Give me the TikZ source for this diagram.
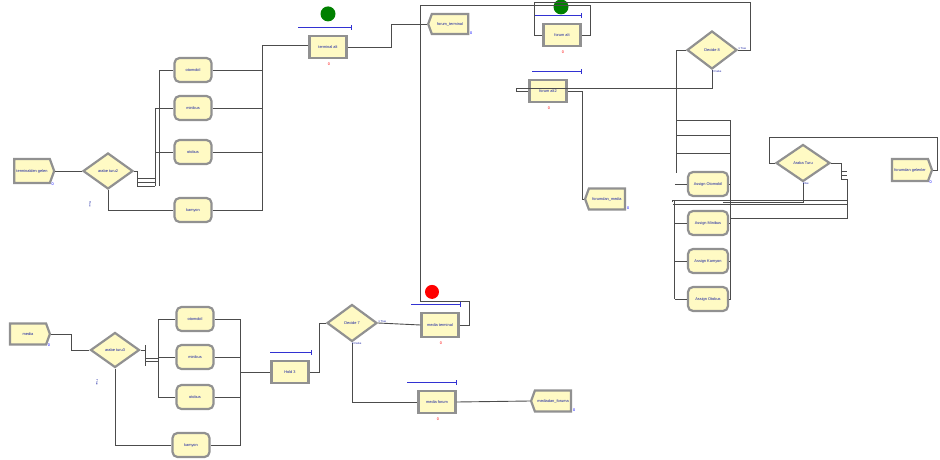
\documentclass[tikz,border=0pt]{standalone}
\usepackage{fontspec}
\setsansfont{Liberation Sans}
\usetikzlibrary{shapes.geometric,shapes.symbols,arrows.meta,calc}
\definecolor{modfill}{RGB}{255,250,196}
\definecolor{modedge}{RGB}{145,145,145}
\definecolor{labblue}{RGB}{20,30,160}
\definecolor{qblue}{RGB}{50,50,210}
\tikzset{
	lbl/.style={font=\sffamily\fontsize{3.9}{5}\selectfont, text=labblue},
	proc/.style={lbl, draw=modedge, line width=2.2pt, fill=modfill, minimum width=37pt, minimum height=22pt, inner sep=0pt},
	assignbox/.style={proc, rounded corners=5pt, minimum height=24pt},
	decbox/.style={lbl, diamond, draw=modedge, line width=2.2pt, fill=modfill, minimum width=50pt, minimum height=36pt, inner sep=0pt},
	createbox/.style={lbl, signal, signal to=east, signal pointer angle=140, draw=modedge, line width=2.2pt, fill=modfill, minimum width=40pt, minimum height=24pt, inner sep=0pt},
	disposebox/.style={createbox, signal to=west},
	conn/.style={draw=black!70, line width=0.9pt},
	queue/.style={draw=qblue, line width=0.9pt, -{Bar[width=5pt]}},
	cntred/.style={font=\sffamily\fontsize{3.8}{4}\selectfont, text=red},
	cntblue/.style={font=\sffamily\fontsize{3.8}{4}\selectfont, text=blue},
	tiny/.style={font=\sffamily\fontsize{2.8}{3}\selectfont, text=labblue, inner sep=0pt}
}
\begin{document}
\begin{tikzpicture}[x=1pt, y=-1pt]
	\useasboundingbox (0,0) rectangle (940,460);
	% terminal side
	\node[createbox] (tgel) at (32,171) {terminalden gelen};
	\node[decbox] (dec2) at (108,171) {arabe turu2};
	\node[assignbox] (oto1) at (193,70) {otomobil};
	\node[assignbox] (min1) at (193,108) {minibus};
	\node[assignbox] (otb1) at (193,152) {otobus};
	\node[assignbox] (kam1) at (193,210) {kamyon};
	\node[proc] (talt) at (328,47) {terminal alt};
	\node[disposebox, minimum height=20pt] (fterm) at (450,24) {forum\_terminal};
	% forum side
	\node[proc] (falt) at (562,35) {forum alt};
	\node[proc] (falt2) at (548,91) {forum alt2};
	\node[disposebox, minimum height=21pt] (fmed) at (607,199) {forumdan\_media};
	\node[decbox, minimum height=38pt] (dec8) at (712,50) {Decide 8};
	\node[decbox, minimum width=54pt, minimum height=37pt] (araba) at (803,163) {Araba Turu};
	\node[createbox, minimum height=22pt] (fgel) at (910,170) {forumdan gelenler};
	\node[assignbox, minimum width=40pt] (asO) at (708,184) {Assign Otomobil};
	\node[assignbox, minimum width=40pt] (asM) at (708,223) {Assign Minibus};
	\node[assignbox, minimum width=40pt] (asK) at (708,261) {Assign Kamyon};
	\node[assignbox, minimum width=40pt] (asB) at (708,299) {Assign Otobus};
	% media side
	\node[createbox, minimum height=21pt] (media) at (28,334) {media};
	\node[decbox, minimum width=49pt, minimum height=35pt] (dec3) at (115,350) {arabe turu3};
	\node[assignbox] (oto2) at (195,319) {otomobil};
	\node[assignbox] (min2) at (195,357) {minibus};
	\node[assignbox] (otb2) at (195,397) {otobus};
	\node[assignbox] (kam2) at (191,445) {kamyon};
	\node[proc] (hold) at (290,372) {Hold 3};
	\node[decbox, minimum height=37pt] (dec7) at (352,323) {Decide 7};
	\node[proc, minimum height=24pt] (mterm) at (440,325) {media terminal};
	\node[proc] (mfor) at (437,402) {media forum};
	\node[disposebox, minimum height=21pt] (mdf) at (553,401) {mediadan\_foruma};

	% queues, counters, status
	\draw[queue] ($(talt.north west)+(-10,-7)$) -- ($(talt.north east)+(4,-7)$);
	\draw[queue] ($(falt.north west)+(-8,-7)$) -- ($(falt.north east)+(0,-7)$);
	\draw[queue] ($(falt2.north west)+(4,-7)$) -- ($(falt2.north east)+(14,-7)$);
	\draw[queue] ($(hold.north west)+(0,-7)$) -- ($(hold.north east)+(2,-7)$);
	\draw[queue] ($(mterm.north west)+(-9,-7)$) -- ($(mterm.north east)+(1,-7)$);
	\draw[queue] ($(mfor.north west)+(-10,-7)$) -- ($(mfor.north east)+(0,-7)$);
	\foreach \p in {talt,falt,falt2,mterm,mfor}
		\node[cntred] at ($(\p.south)+(1,5)$) {0};
	\foreach \p in {tgel,fterm,fmed,fgel,media,mdf}
		\node[cntblue] at ($(\p.south east)+(2,0)$) {0};
	\fill[green!50!black] ($(talt.north)+(0,-21)$) circle (7.5pt);
	\fill[green!50!black] ($(falt.north)+(-1,-16)$) circle (7.5pt);
	\fill[red] ($(mterm.north)+(-8,-20)$) circle (7pt);

	% terminal flow
	\draw[conn] (tgel.east) -- (dec2.west);
	\draw[conn] (dec2.east) -- ++(3,0) coordinate (b2) -- ++(0,15);
	\draw[conn] ($(b2)+(0,7)$) -- ++(18,0) ($(b2)+(0,11)$) -- ++(18,0) ($(b2)+(0,15)$) -- ++(18,0) coordinate (s2);
	\draw[conn] (s2) |- (min1.west);
	\draw[conn] (s2) |- (otb1.west);
	\draw[conn] ($(s2)+(4,0)$) |- (oto1.west);
	\draw[conn] (dec2.south) |- (kam1.west);
	\coordinate (j1) at (262,45);
	\foreach \p in {oto1,min1,otb1,kam1}
		\draw[conn] (\p.east) -| (j1);
	\draw[conn] (j1) -- (talt.west |- j1);
	\draw[conn] (talt.east) -- ++(44,0) |- (fterm.west);

	% forum flow
	\coordinate (top) at (420,5);
	\draw[conn] (mterm.east) -- ++(10,0) |- ($(mterm.north)+(-20,-10)$) -| (top) -| ($(falt.east)+(9,0)$) -- (falt.east);
	\draw[conn] (dec8.east) -- ++(12,0) |- ($(falt.north west)+(-8,-20)$) |- (falt.west);
	\draw[conn] (dec8.south) |- ($(falt2.west)+(-12,-3)$) -- ++(0,3) -- (falt2.west);
	\draw[conn] (falt2.east) -- ++(15,0) |- (fmed.west);
	\coordinate (l8) at ($(dec8.west)+(-9,0)$);
	\coordinate (r8) at ($(l8)+(54,0)$);
	\coordinate (i8) at ($(l8)+(-2,0)$);
	\draw[conn] (dec8.west) -- (l8) -- ($(l8)+(0,123)$);
	\foreach \y in {70,85,103}
		\draw[conn] ($(l8)+(0,\y)$) -- ($(r8)+(0,\y)$);
	\draw[conn] ($(r8)+(0,70)$) -- ($(r8)+(0,249)$);
	\foreach \p in {asO,asM,asK,asB}
		\draw[conn] (\p.east) -- (r8 |- \p.east);
	\draw[conn] ($(i8)+(0,151)$) -- ($(i8)+(0,249)$);
	\foreach \p in {asO,asM,asK,asB}
		\draw[conn] (i8 |- \p.west) -- (\p.west);
	\draw[conn] (fgel.east) -- ++(4,0) |- ($(araba.west)+(-5,-26)$) -- ($(araba.west)+(-5,0)$) -- (araba.west);
	\draw[conn] (araba.east) -- ++(10,0) coordinate (b8) -- ++(0,16);
	\draw[conn] ($(b8)+(0,8)$) -- ++(6,0) ($(b8)+(0,12)$) -- ++(6,0) ($(b8)+(0,16)$) -- ++(6,0) coordinate (s8);
	\draw[conn] (s8) |- ($(i8)+(-2,150)$) -- ($(i8)+(-2,152)$);
	\draw[conn] (s8) |- ($(i8)+(-2,154)$);
	\draw[conn] (s8) |- ($(r8)+(0,168)$);
	\draw[conn] (araba.south) |- ($(asO.south east)+(-6,5)$);

	% media flow
	\draw[conn] (media.east) -- ++(20,0) |- (dec3.west);
	\draw[conn] (dec3.east) -- ++(5,0) coordinate (b3) -- ++(0,-5) (b3) -- ++(0,16);
	\draw[conn] ($(b3)+(0,8)$) -- ++(13,0) ($(b3)+(0,11)$) -- ++(13,0) coordinate (s3);
	\draw[conn] (s3) |- (oto2.west);
	\draw[conn] (s3) |- (min2.west);
	\draw[conn] (s3) |- (otb2.west);
	\draw[conn] (dec3.south) |- (kam2.west);
	\coordinate (j3) at (240,372);
	\foreach \p in {oto2,min2,otb2,kam2}
		\draw[conn] (\p.east) -| (j3);
	\draw[conn] (j3) -- (hold.west);
	\draw[conn] (hold.east) -- ++(10,0) |- (dec7.west);
	\draw[conn] (dec7.east) -- (mterm.west);
	\draw[conn] (dec7.south) |- (mfor.west);
	\draw[conn] (mfor.east) -- (mdf.west);

	% branch labels
	\node[tiny, rotate=-90] at ($(dec2.south)+(-18,14)$) {True};
	\node[tiny, rotate=-90] at ($(dec3.south)+(-18,14)$) {True};
	\node[tiny, anchor=south west] at (dec8.east) {1 True};
	\node[tiny, anchor=north west] at (dec8.south) {0 False};
	\node[tiny, anchor=south west] at (dec7.east) {1 True};
	\node[tiny, anchor=north west] at (dec7.south) {0 False};
	\node[tiny, anchor=north west] at (araba.south) {Else};
\end{tikzpicture}
\end{document}
